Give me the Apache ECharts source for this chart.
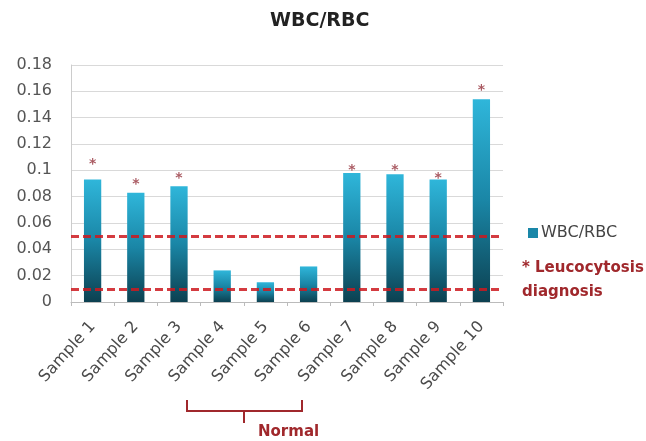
<!DOCTYPE html>
<html><head><meta charset="utf-8">
<script src="https://cdn.jsdelivr.net/npm/echarts@6/dist/echarts.min.js"></script>
<style>html,body{margin:0;padding:0;background:#fff}#c{width:646px;height:441px}</style>
</head><body><div id="c"></div>
<script>
var categories = ['Sample 1','Sample 2','Sample 3','Sample 4','Sample 5','Sample 6','Sample 7','Sample 8','Sample 9','Sample 10'];
var ratioValues = [0.093, 0.083, 0.088, 0.024, 0.015, 0.027, 0.098, 0.097, 0.093, 0.154];
var asteriskValues = [0.1076, 0.0922, 0.0973, null, null, null, 0.1027, 0.1027, 0.0973, 0.1635];
var thresholdValues = [0.05, 0.01];
var yTicks = {min: 0, max: 0.18, interval: 0.02};

var chart = echarts.init(document.getElementById('c'));
var font = '"DejaVu Sans", sans-serif';
chart.setOption({
  animation: false,
  backgroundColor: '#fff',
  grid: {left: 71, right: 143, top: 65, bottom: 139},
  legend: {
    left: 523, top: 220, itemWidth: 10, itemHeight: 10, itemGap: 3, icon: 'rect',
    itemStyle: {color: '#1a87a8'},
    textStyle: {fontFamily: font, fontSize: 16, color: '#444', padding: [0, 0, 0, -2]},
    data: ['WBC/RBC']
  },
  xAxis: {
    type: 'category', data: categories,
    axisLine: {lineStyle: {color: '#bbb'}},
    axisTick: {show: true, lineStyle: {color: '#bbb'}, length: 4},
    axisLabel: {rotate: 48, margin: 22, fontFamily: font, fontSize: 16, color: '#4a4a4a'}
  },
  yAxis: {
    type: 'value', min: yTicks.min, max: yTicks.max, interval: yTicks.interval,
    axisLine: {show: true, lineStyle: {color: '#ccc'}},
    axisTick: {show: false},
    splitLine: {lineStyle: {color: '#d9d9d9', width: 1}},
    axisLabel: {margin: 19, fontFamily: font, fontSize: 16, color: '#555'}
  },
  series: [
    {
      name: 'WBC/RBC', type: 'bar', data: ratioValues, barWidth: '40%',
      itemStyle: {color: new echarts.graphic.LinearGradient(0, 0, 0, 1, [
        {offset: 0, color: '#2fb6da'}, {offset: 0.5, color: '#1a86a6'}, {offset: 1, color: '#0c4050'}])},
      markLine: {
        silent: true, symbol: 'none', z: 10,
        label: {show: false},
        lineStyle: {color: 'rgba(205,25,30,0.85)', type: [8, 4], width: 3},
        data: thresholdValues.map(function (v) { return {yAxis: v}; })
      }
    },
    {
      name: 'asterisk', type: 'scatter', data: asteriskValues, symbolSize: 1,
      itemStyle: {color: 'rgba(0,0,0,0)'},
      label: {show: true, formatter: '*', position: 'inside', offset: [0, 4],
        fontFamily: font, fontSize: 14, fontWeight: 'bold', color: '#93303a'}
    }
  ],
  graphic: [
    {type: 'text', left: 270, top: 12,
      style: {text: 'WBC/RBC', fontFamily: font, fontSize: 19, fontWeight: 'bold', fill: '#222'}},
    {type: 'text', left: 522, top: 256,
      style: {text: '* Leucocytosis\ndiagnosis', fontFamily: font, fontSize: 15, fontWeight: 'bold', fill: '#a0282c', lineHeight: 24}},
    {type: 'polyline', shape: {points: [[187, 400], [187, 411], [302, 411], [302, 400]]},
      style: {stroke: '#a0282c', lineWidth: 2, fill: null}},
    {type: 'line', shape: {x1: 244, y1: 411, x2: 244, y2: 423},
      style: {stroke: '#a0282c', lineWidth: 2}},
    {type: 'text', left: 258, top: 425,
      style: {text: 'Normal', fontFamily: font, fontSize: 15, fontWeight: 'bold', fill: '#a0282c'}}
  ]
});
</script></body></html>
